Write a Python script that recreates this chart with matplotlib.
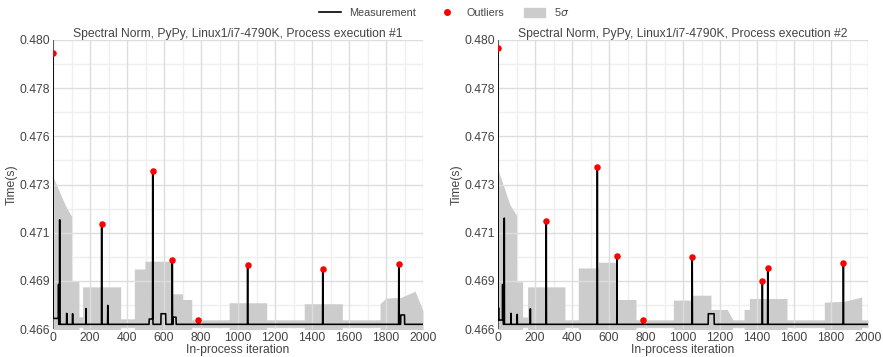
import numpy as np
import matplotlib.pyplot as plt
from matplotlib.lines import Line2D
from matplotlib.patches import Patch
from matplotlib.ticker import FixedLocator, MultipleLocator

plt.rcParams['font.family'] = ['Liberation Sans', 'DejaVu Sans']

n_iter = 2000

titles = ["Spectral Norm, PyPy, Linux1/i7-4790K, Process execution #1",
          "Spectral Norm, PyPy, Linux1/i7-4790K, Process execution #2"]

# --- execution #1 ---
p1_base = 0.46643
p1_levels = [(1, 30, 0.46672), (520, 540, 0.46669), (584, 609, 0.46695),
             (650, 665, 0.46678), (1880, 1900, 0.46689)]
p1_spike_x = [30, 36, 74, 106, 178, 296]
p1_spike_y = [0.46839, 0.47157, 0.46697, 0.46695, 0.46720, 0.46736]
p1_out_x = [0, 263, 539, 645, 786, 1052, 1458, 1869]
p1_out_y = [0.47976, 0.47137, 0.47397, 0.46958, 0.46664, 0.46933, 0.46915, 0.46940]
# 5 sigma band: segment start, end, top at start, top at end
p1_band_x0 = [0, 38, 74, 101, 140, 160, 366, 440, 497, 645, 700, 750, 952, 1155,
              1358, 1564, 1768, 1800, 1880, 1957]
p1_band_x1 = [38, 74, 101, 140, 160, 366, 440, 497, 645, 700, 750, 952, 1155, 1358,
              1564, 1768, 1800, 1880, 1957, 2000]
p1_band_t0 = [0.47370, 0.47287, 0.47214, 0.46855, 0.46680, 0.46827, 0.46670, 0.46915,
              0.46953, 0.46793, 0.46765, 0.46665, 0.46749, 0.46665, 0.46744, 0.46665,
              0.46744, 0.46772, 0.46775, 0.46806]
p1_band_t1 = [0.47287, 0.47214, 0.47173, 0.46855, 0.46680, 0.46827, 0.46670, 0.46915,
              0.46953, 0.46793, 0.46765, 0.46665, 0.46749, 0.46665, 0.46744, 0.46665,
              0.46772, 0.46775, 0.46806, 0.46710]

# --- execution #2 ---
p2_base = 0.46643
p2_levels = [(1, 28, 0.46664), (1137, 1168, 0.46695)]
p2_spike_x = [3, 25, 34, 70, 104, 175]
p2_spike_y = [0.46724, 0.46839, 0.47165, 0.46697, 0.46692, 0.46720]
p2_out_x = [0, 261, 537, 643, 782, 1050, 1429, 1458, 1867]
p2_out_y = [0.48002, 0.47149, 0.47417, 0.46981, 0.46663, 0.46974, 0.46857, 0.46919, 0.46943]
p2_band_x0 = [0, 34, 65, 101, 133, 160, 362, 434, 542, 643, 746, 948, 1050, 1151,
              1239, 1270, 1330, 1359, 1562, 1764, 1870, 1966]
p2_band_x1 = [34, 65, 101, 133, 160, 362, 434, 542, 643, 746, 948, 1050, 1151, 1239,
              1270, 1330, 1359, 1562, 1764, 1870, 1966, 2000]
p2_band_t0 = [0.47402, 0.47312, 0.47230, 0.46852, 0.46679, 0.46827, 0.46665, 0.46920,
              0.46948, 0.46765, 0.46665, 0.46762, 0.46786, 0.46716, 0.46716, 0.46665,
              0.46716, 0.46770, 0.46665, 0.46752, 0.46756, 0.46665]
p2_band_t1 = [0.47312, 0.47230, 0.47178, 0.46852, 0.46679, 0.46827, 0.46665, 0.46920,
              0.46948, 0.46765, 0.46665, 0.46762, 0.46786, 0.46716, 0.46665, 0.46665,
              0.46716, 0.46770, 0.46665, 0.46756, 0.46777, 0.46665]

y_lo, y_hi = 0.4662, 0.4804
narrow_top = 0.46685
narrow_bot = 0.46628

def build_series(base, levels, sx, sy, ox, oy):
    y = np.full(n_iter, base)
    for a, b, v in levels:
        y[a:b + 1] = v
    y[sx] = sy
    y[ox] = oy
    return y

def band_vertices(x0, x1, t0, t1, mean):
    xs, top, bot = [], [], []
    for a, b, ta, tb in zip(x0, x1, t0, t1):
        for x, t in ((a, ta), (b, tb)):
            xs.append(x)
            top.append(t)
            bot.append(narrow_bot if t <= narrow_top else 2 * mean - t)
    return xs, top, bot

panels = [
    (p1_base, p1_levels, p1_spike_x, p1_spike_y, p1_out_x, p1_out_y,
     p1_band_x0, p1_band_x1, p1_band_t0, p1_band_t1),
    (p2_base, p2_levels, p2_spike_x, p2_spike_y, p2_out_x, p2_out_y,
     p2_band_x0, p2_band_x1, p2_band_t0, p2_band_t1),
]

txt = '#444444'
fig = plt.figure(figsize=(8.83, 3.57), dpi=100)
lefts = [53 / 883, 498 / 883]
for k, (base, lev, sx, sy, ox, oy, bx0, bx1, bt0, bt1) in enumerate(panels):
    ax = fig.add_axes([lefts[k], 28 / 357, 370 / 883, 289 / 357])
    series = build_series(base, lev, sx, sy, ox, oy)
    xs, top, bot = band_vertices(bx0, bx1, bt0, bt1, base)
    ax.fill_between(xs, bot, top, color='#cccccc', lw=0, zorder=0.5)
    ax.axvline(0, color='#444444', lw=1.2, zorder=2)
    ax.plot(np.arange(n_iter), series, color='black', lw=1.15, zorder=3)
    ax.scatter(ox, oy, s=22, color='red', zorder=4, linewidths=0)

    ax.set_xlim(0, 2000)
    ax.set_ylim(y_lo, y_hi)
    ax.xaxis.set_major_locator(MultipleLocator(200))
    yt = np.linspace(y_lo, y_hi, 7)
    ax.yaxis.set_major_locator(FixedLocator(yt))
    ax.set_yticklabels(['%.3f' % v for v in yt])
    # minor grid sits under the sigma band, major grid above it
    for xm in np.arange(100, 2000, 200):
        ax.axvline(xm, color='#efefef', lw=1, zorder=0.3)
    for ym in (yt[:-1] + yt[1:]) / 2:
        ax.axhline(ym, color='#efefef', lw=1, zorder=0.3)
    ax.grid(which='major', color='#dddddd', lw=1)
    ax.set_axisbelow('line')
    for s in ax.spines.values():
        s.set_visible(False)
    ax.tick_params(which='both', length=0, labelsize=8.7, colors=txt, pad=2)
    ax.set_xlabel('In-process iteration', fontsize=8.7, color=txt, labelpad=0)
    ax.set_ylabel('Time(s)', fontsize=8.7, color=txt, labelpad=1)
    ax.set_title(titles[k], fontsize=8.7, color=txt, pad=2)

handles = [Line2D([], [], color='black', lw=1.2),
           Line2D([], [], color='red', marker='o', ls='none', markersize=5, markeredgewidth=0),
           Patch(color='#cccccc')]
fig.legend(handles, ['Measurement', 'Outliers', '5$\\sigma$'], loc='upper center',
           bbox_to_anchor=(0.503, 1.01), ncol=3, frameon=False, fontsize=7.8,
           handlelength=2.0, handleheight=0.8, handletextpad=0.8,
           columnspacing=1.8, labelcolor=txt)

fig.savefig('out.png', dpi=100)
